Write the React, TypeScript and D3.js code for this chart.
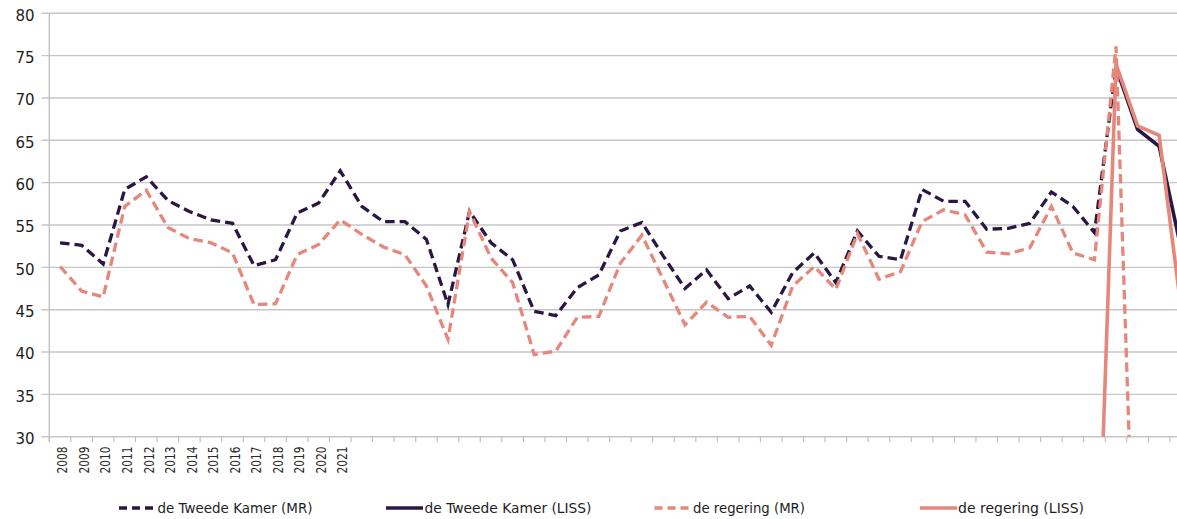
import React from "react";
import * as d3 from "d3";

const categories: string[] = [
  "2008", "2009", "2010", "2011", "2012", "2013", "2014", "2015", "2016", "2017",
  "2018", "2019", "2020", "2021", "", "", "", "", "", "",
  "", "", "", "", "", "", "", "", "", "",
  "", "", "", "", "", "", "", "", "", "",
  "", "", "", "", "", "", "", "", "", "",
  "", "", "",
];

const yTicks = [30, 35, 40, 45, 50, 55, 60, 65, 70, 75, 80];

const tkMR: (number | null)[] = [
  52.9, 52.6, 50.4, 59.2, 60.7, 57.9, 56.6, 55.6, 55.2, 50.2,
  50.9, 56.4, 57.6, 61.4, 57.2, 55.4, 55.4, 53.3, 45.6, 56.6,
  52.9, 50.9, 44.8, 44.3, 47.6, 49.1, 54.3, 55.3, 51.3, 47.5,
  49.7, 46.3, 47.8, 44.7, 49.4, 51.7, 48.2, 54.3, 51.3, 50.9,
  59.2, 57.8, 57.8, 54.5, 54.6, 55.2, 58.9, 57.2, 54.1, 73.6,
  null, null, null,
];

const tkLISS: (number | null)[] = [
  null, null, null, null, null, null, null, null, null, null,
  null, null, null, null, null, null, null, null, null, null,
  null, null, null, null, null, null, null, null, null, null,
  null, null, null, null, null, null, null, null, null, null,
  null, null, null, null, null, null, null, null, null, 73.6,
  66.3, 64.3, 52.4,
];

const regMR: (number | null)[] = [
  50.1, 47.2, 46.5, 57.2, 59.1, 54.7, 53.4, 52.9, 51.7, 45.6,
  45.7, 51.5, 52.7, 55.6, 53.9, 52.4, 51.5, 47.8, 41.5, 56.6,
  51.1, 48.2, 39.7, 40.1, 44.1, 44.2, 50.5, 53.8, 48.5, 43.2,
  45.9, 44.1, 44.2, 40.8, 47.8, 50.1, 47.4, 54.0, 48.6, 49.5,
  55.4, 56.8, 56.2, 51.8, 51.6, 52.3, 57.2, 51.7, 50.9, 76.1,
  0, null, null,
];

const regLISS: (number | null)[] = [
  null, null, null, null, null, null, null, null, null, null,
  null, null, null, null, null, null, null, null, null, null,
  null, null, null, null, null, null, null, null, null, null,
  null, null, null, null, null, null, null, null, null, null,
  null, null, null, null, null, null, null, null, 0, 74.0,
  66.7, 65.6, 45.5,
];

const seriesNames = [
  "de Tweede Kamer (MR)",
  "de Tweede Kamer (LISS)",
  "de regering (MR)",
  "de regering (LISS)",
];

const DARK = "#2a1742";
const PINK = "#e6877c";

const series = [
  { name: seriesNames[0], values: tkMR, color: DARK, dashed: true },
  { name: seriesNames[1], values: tkLISS, color: DARK, dashed: false },
  { name: seriesNames[2], values: regMR, color: PINK, dashed: true },
  { name: seriesNames[3], values: regLISS, color: PINK, dashed: false },
];

const legendPos = [
  { lx: 119, tx: 157.5, tw: 155 },
  { lx: 386, tx: 424.5, tw: 167 },
  { lx: 654.5, tx: 693, tw: 112 },
  { lx: 920, tx: 958, tw: 126 },
];

export default function App() {
  const W = 1177;
  const H = 519;
  const left = 49.3;
  const step = 21.55;
  const top = 13.3;
  const bottom = 436.7;

  const x = d3
    .scaleBand<number>()
    .domain(categories.map((_, i) => i))
    .range([left, left + step * categories.length])
    .padding(0);
  const y = d3.scaleLinear().domain([30, 80]).range([bottom, top]);
  const cx = (i: number) => (x(i) as number) + x.bandwidth() / 2;

  const line = d3
    .line<number | null>()
    .defined((d) => d != null)
    .x((_, i) => cx(i))
    .y((d) => y(d as number));

  const tickXs = categories.map((_, i) => x(i) as number);

  return (
    <svg
      width={W}
      height={H}
      style={{ position: "absolute", left: 0, top: 0, background: "#fff" }}
      fontFamily="'DejaVu Sans', Verdana, sans-serif"
    >
      <defs>
        <clipPath id="plotClip">
          <rect x={left} y={0} width={W - left} height={bottom} />
        </clipPath>
      </defs>
      {yTicks.map((t) => (
        <g key={t}>
          <line x1={41.5} x2={W} y1={y(t)} y2={y(t)} stroke="#c6c6c6" strokeWidth={1.4} />
          <text
            x={34.5}
            y={y(t) + 2}
            textAnchor="end"
            dy="0.36em"
            fontSize={15}
            fill="#1e1e1e"
          >
            {t}
          </text>
        </g>
      ))}
      <line x1={left} x2={left} y1={top} y2={bottom + 5} stroke="#c0c0c0" strokeWidth={1.4} />
      {tickXs.map((tx, i) => (
        <line key={i} x1={tx} x2={tx} y1={bottom} y2={bottom + 5.5} stroke="#c0c0c0" strokeWidth={1.2} />
      ))}
      {categories.map((c, i) =>
        c ? (
          <text
            key={i}
            transform={`translate(${cx(i) + 2},${446.5}) rotate(-90)`}
            textAnchor="end"
            dy="0.36em"
            fontSize={14.5}
            fill="#2a2a2a"
            textLength={27}
            lengthAdjust="spacingAndGlyphs"
          >
            {c}
          </text>
        ) : null
      )}
      <g clipPath="url(#plotClip)">
        {series.map((s) => (
          <path
            key={s.name}
            d={line(s.values) || ""}
            fill="none"
            stroke={s.color}
            strokeWidth={s.dashed ? 3.3 : 3.6}
            strokeDasharray={s.dashed ? "9.5,5" : undefined}
            strokeLinejoin="miter"
          />
        ))}
      </g>
      {series.map((s, i) => (
        <g key={s.name}>
          <line
            x1={legendPos[i].lx}
            x2={legendPos[i].lx + 37}
            y1={508}
            y2={508}
            stroke={s.color}
            strokeWidth={3.3}
            strokeDasharray={s.dashed ? "8,5" : undefined}
          />
          <text
            x={legendPos[i].tx}
            y={508}
            dy="0.36em"
            fontSize={14.5}
            fill="#1e1e1e"
            textLength={legendPos[i].tw}
            lengthAdjust="spacingAndGlyphs"
          >
            {s.name}
          </text>
        </g>
      ))}
    </svg>
  );
}
